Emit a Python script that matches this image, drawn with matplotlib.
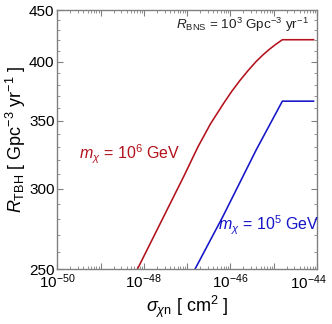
import matplotlib
matplotlib.use("Agg")
import matplotlib.pyplot as plt
import numpy as np
from matplotlib.ticker import FixedLocator, FuncFormatter, NullFormatter

plt.rcParams['font.family'] = ['Liberation Sans', 'DejaVu Sans']
plt.rcParams['mathtext.fontset'] = 'custom'
plt.rcParams['mathtext.rm'] = 'Liberation Sans'
plt.rcParams['mathtext.it'] = 'Liberation Sans:italic'
plt.rcParams['mathtext.bf'] = 'Liberation Sans:bold'

# data (log10 sigma [cm^2], R_TBH [Gpc^-3 yr^-1])
red_logsigma = [-48.26, -48.15, -47.80, -47.40, -47.07, -46.75, -46.46, -46.17, -45.97,
                -45.78, -45.59, -45.40, -45.24, -45.09, -44.95, -44.80, -44.08]
red_R = [244.7, 250.0, 267.8, 289.7, 309.1, 330.0, 347.7, 363.5, 374.2,
         383.6, 392.4, 400.7, 406.8, 412.0, 416.4, 420.7, 420.7]
blue_logsigma = [-46.92, -46.82, -46.17, -45.40, -44.80, -44.08]
blue_R = [245.0, 250.0, 282.0, 328.0, 366.0, 366.0]

xticks_major = [-50, -49, -48, -47, -46, -45, -44]
xtick_labels_at = [-50, -48, -46]
last_xlabel = -44
yticks_major = [250, 300, 350, 400, 450]
yticks_minor = list(range(260, 450, 10))

red = '#b3121c'
blue = '#1414c8'
gray = '#808080'

fig = plt.figure(figsize=(3.32, 3.24), dpi=100)
ax = fig.add_axes([0.1726, 0.169, 0.7822, 0.800])

ax.plot(10.0 ** np.array(red_logsigma), red_R, color=red, lw=1.15)
ax.plot(10.0 ** np.array(blue_logsigma), blue_R, color=blue, lw=1.15)

ax.set_xscale('log')
ax.set_yscale('log')
ax.set_xlim(1e-50, 1e-44)
ax.set_ylim(250, 450)

ax.xaxis.set_major_locator(FixedLocator([10.0 ** e for e in xticks_major]))
minor_x = [m * 10.0 ** e for e in range(-50, -44) for m in range(2, 10)]
ax.xaxis.set_minor_locator(FixedLocator(minor_x))

def xfmt(v, pos):
    e = int(round(np.log10(v)))
    if e in xtick_labels_at:
        return r'$10^{%d}$' % e
    return ''
ax.xaxis.set_major_formatter(FuncFormatter(xfmt))
ax.xaxis.set_minor_formatter(NullFormatter())

ax.yaxis.set_major_locator(FixedLocator(yticks_major))
ax.yaxis.set_minor_locator(FixedLocator(yticks_minor))
ax.yaxis.set_major_formatter(FuncFormatter(lambda v, p: '%d' % v))
ax.yaxis.set_minor_formatter(NullFormatter())

for s in ax.spines.values():
    s.set_color(gray)
    s.set_linewidth(1.0)
ax.tick_params(which='both', direction='in', top=True, right=True, color=gray, labelsize=11, pad=2)
ax.tick_params(which='major', length=4, width=0.8)
ax.tick_params(which='minor', length=2, width=0.6)

# last x tick label, shifted left to stay inside the image
ax.annotate(r'$10^{%d}$' % last_xlabel, xy=(10.0 ** last_xlabel, 0), xycoords=('data', 'axes fraction'),
            xytext=(-6, -3), textcoords='offset points', ha='center', va='top', fontsize=11)

ax.set_xlabel(r'$\sigma_{\chi\mathrm{n}}$ [ cm$^2$ ]', fontsize=13, labelpad=2)
ax.set_ylabel(r'$R_{\mathrm{TBH}}$ [ Gpc$^{-3}$ yr$^{-1}$ ]', fontsize=13, labelpad=1)

ax.text(0.97, 0.942, r'$R_{\mathrm{BNS}}$ = 10$^3$ Gpc$^{-3}$ yr$^{-1}$', transform=ax.transAxes,
        ha='right', va='center', fontsize=9.7, color='#222222')
ax.text(0.083, 0.442, r'$m_\chi$ = 10$^6$ GeV', transform=ax.transAxes,
        ha='left', va='center', fontsize=11.5, color=red)
ax.text(0.62, 0.17, r'$m_\chi$ = 10$^5$ GeV', transform=ax.transAxes,
        ha='left', va='center', fontsize=11.5, color=blue)

fig.savefig('out.png', dpi=100)
